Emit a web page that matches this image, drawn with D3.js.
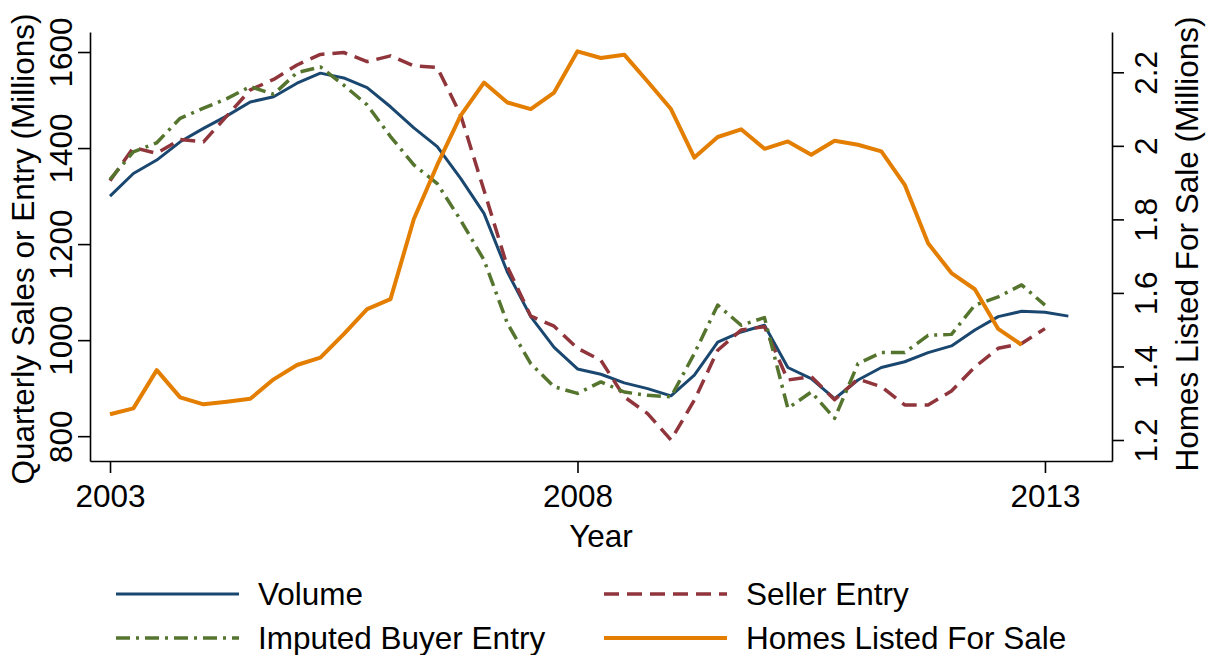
<!DOCTYPE html>
<html>
<head>
<meta charset="utf-8">
<script src="https://cdn.jsdelivr.net/npm/d3@7"></script>
<style>
  body { margin: 0; background: #fff; }
  text { font-family: "Liberation Sans", Arial, sans-serif; fill: #000; }
</style>
</head>
<body>
<div id="chart"></div>
<script>
// data: quarterly, starting 2003 Q1
var startYear = 2003;
var volume = [1300,1347,1375,1413,1441,1467,1496,1507,1535,1556,1546,1526,1486,1442,1403,1337,1264,1142,1049,985,940,929,911,899,884,927,996,1017,1031,943,920,878,917,943,955,974,988,1021,1049,1060,1058,1050];
var sellerEntry = [1332,1401,1389,1418,1413,1467,1521,1543,1573,1595,1599,1580,1592,1571,1568,1469,1312,1153,1050,1029,983,958,882,847,792,875,979,1021,1028,917,924,876,919,903,865,865,894,944,983,993,1024];
var buyerEntry = [1335,1392,1411,1462,1483,1503,1528,1512,1557,1569,1531,1490,1424,1365,1326,1250,1167,1035,951,903,889,913,892,885,882,972,1073,1031,1047,858,892,837,951,974,974,1010,1012,1073,1090,1115,1073];
var homesListed = [1.270,1.286,1.390,1.316,1.297,1.304,1.312,1.365,1.404,1.424,1.488,1.556,1.583,1.801,1.948,2.082,2.172,2.118,2.100,2.145,2.257,2.239,2.248,2.175,2.100,1.968,2.024,2.045,1.992,2.012,1.976,2.014,2.003,1.985,1.894,1.735,1.654,1.610,1.502,1.459];

var xTicks = [2003, 2008, 2013];
var yLeftTicks = [800, 1000, 1200, 1400, 1600];
var yRightTicks = [1.2, 1.4, 1.6, 1.8, 2, 2.2];

var W = 1211, H = 655;
var plot = {left: 90, right: 1112, top: 32, bottom: 461};

var svg = d3.select("#chart").append("svg")
  .attr("width", W).attr("height", H);

// scales
var x = d3.scaleLinear().domain([2002.786, 2013.717]).range([plot.left, plot.right]);
var yL = d3.scaleLinear().domain([748.3, 1641.7]).range([plot.bottom, plot.top]);
var yR = d3.scaleLinear().domain([1.1429, 2.3096]).range([plot.bottom, plot.top]);

var fontSize = "31.5px";

// left axis
var gL = svg.append("g")
  .attr("transform", "translate(" + plot.left + ",0)")
  .call(d3.axisLeft(yL).tickValues(yLeftTicks).tickSize(12).tickSizeOuter(0)
    .tickFormat(d3.format("d")));
gL.selectAll("text")
  .attr("x", 0).attr("y", -18).attr("dy", 0)
  .attr("transform", "rotate(-90)")
  .style("text-anchor", "middle");

// right axis
var gR = svg.append("g")
  .attr("transform", "translate(" + plot.right + ",0)")
  .call(d3.axisRight(yR).tickValues(yRightTicks).tickSize(12).tickSizeOuter(0)
    .tickFormat(function(d) { return String(d); }));
gR.selectAll("text")
  .attr("x", 0).attr("y", 45).attr("dy", 0)
  .attr("transform", "rotate(-90)")
  .style("text-anchor", "middle");

// bottom axis
var gB = svg.append("g")
  .attr("transform", "translate(0," + plot.bottom + ")")
  .call(d3.axisBottom(x).tickValues(xTicks).tickSize(12).tickSizeOuter(0)
    .tickFormat(d3.format("d")));
gB.selectAll("text").attr("y", 46).attr("dy", 0);

svg.selectAll(".domain, .tick line")
  .attr("stroke", "#000").attr("stroke-width", 1.6);
svg.selectAll(".tick text")
  .attr("fill", "#000")
  .style("font-size", fontSize)
  .style("font-family", "'Liberation Sans', Arial, sans-serif");

// axis titles
svg.append("text")
  .attr("transform", "translate(34,249) rotate(-90)")
  .style("text-anchor", "middle").style("font-size", fontSize)
  .text("Quarterly Sales or Entry (Millions)");
svg.append("text")
  .attr("transform", "translate(1198,244) rotate(-90)")
  .style("text-anchor", "middle").style("font-size", fontSize)
  .text("Homes Listed For Sale (Millions)");
svg.append("text")
  .attr("x", (plot.left + plot.right) / 2).attr("y", 547)
  .style("text-anchor", "middle").style("font-size", fontSize)
  .text("Year");

// series
var series = [
  {name: "Volume", values: volume, y: yL, color: "#1a476f", width: 3, dash: null},
  {name: "Seller Entry", values: sellerEntry, y: yL, color: "#90353b", width: 3.5, dash: "15,8"},
  {name: "Imputed Buyer Entry", values: buyerEntry, y: yL, color: "#55752f", width: 3.5, dash: "14,6,3,6"},
  {name: "Homes Listed For Sale", values: homesListed, y: yR, color: "#e37e00", width: 4, dash: null}
];

series.forEach(function(s) {
  var line = d3.line()
    .x(function(d, i) { return x(startYear + i / 4); })
    .y(function(d) { return s.y(d); });
  svg.append("path")
    .datum(s.values)
    .attr("d", line)
    .attr("fill", "none")
    .attr("stroke", s.color)
    .attr("stroke-width", s.width)
    .attr("stroke-linejoin", "round")
    .attr("stroke-dasharray", s.dash);
});

// legend
var legendPos = [
  {x: 116, y: 594}, {x: 604, y: 594},
  {x: 116, y: 638}, {x: 604, y: 638}
];
series.forEach(function(s, i) {
  var p = legendPos[i];
  var g = svg.append("g").attr("transform", "translate(" + p.x + "," + p.y + ")");
  g.append("line")
    .attr("x1", 0).attr("x2", 123).attr("y1", 0).attr("y2", 0)
    .attr("stroke", s.color)
    .attr("stroke-width", s.width)
    .attr("stroke-dasharray", s.dash);
  g.append("text")
    .attr("x", 142).attr("y", 11)
    .style("font-size", fontSize)
    .text(s.name);
});
</script>
</body>
</html>
